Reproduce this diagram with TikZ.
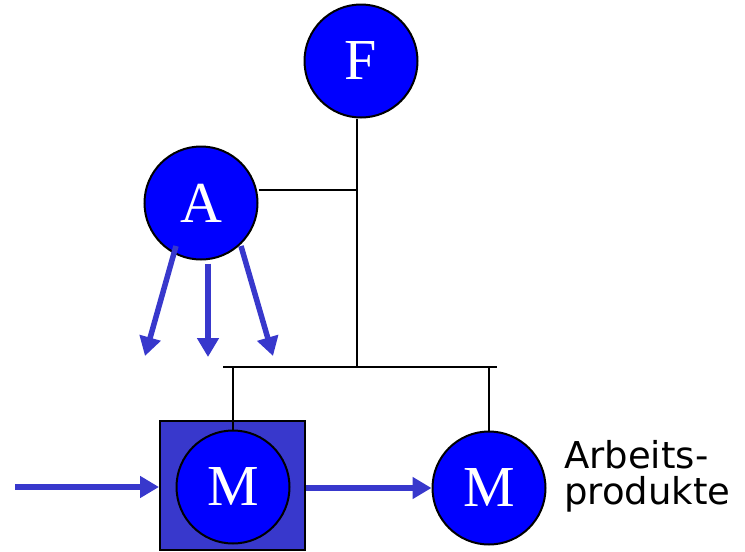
\documentclass[tikz,border=0pt]{standalone}
\usepackage{fontspec}
\setmainfont{Liberation Serif}
\newfontfamily\labelfont{DejaVu Sans}
\usetikzlibrary{arrows.meta,calc}
\definecolor{rolefill}{RGB}{0,0,255}
\definecolor{flowblue}{RGB}{56,56,204}
\tikzset{
  role/.style={circle, draw=black, line width=2pt, fill=rolefill, minimum size=113pt, inner sep=0pt,
    text=white, font=\fontsize{58}{58}\selectfont},
  orgline/.style={draw=black, line width=1.8pt},
  flowarrow/.style={draw=flowblue, line width=5.5pt, -{Triangle[width=21pt,length=19pt]}},
  unitbox/.style={draw=black, line width=2pt, fill=flowblue, minimum width=145pt, minimum height=129pt, inner sep=0pt},
}
\begin{document}
\begin{tikzpicture}[x=1pt,y=-1pt]
\useasboundingbox (0,0) rectangle (745,552);
\node[unitbox] (box) at (232.5,485.5) {};
\node[role] (F) at (361,61) {F};
\node[role] (A) at (201,203) {A};
\node[role] (M1) at (233,487) {M};
\node[role] (M2) at (489,488) {M};
\node[anchor=base west, align=left, inner sep=0pt, font=\labelfont\fontsize{37}{36}\selectfont] (txt) at (564,504) {Arbeits-\\produkte};
% org lines
\coordinate (jA) at (357,190);
\coordinate (barC) at (357,367);
\coordinate (barL) at (223,367);
\coordinate (barR) at (497,367);
\draw[orgline] (F.south -| barC) -- (barC);
\draw[orgline] (A.east |- jA) -- (jA);
\draw[orgline] (barL) -- (barR);
\draw[orgline] (M1.north) -- (M1.north |- barC);
\draw[orgline] (M2.north) -- (M2.north |- barC);
% arrows from A
\coordinate (tL) at (145,356);
\coordinate (tM) at (208,357);
\coordinate (tR) at (273,356);
\draw[flowarrow] (176,246) -- (tL);
\draw[flowarrow] ($(A.south -| tM)+(0,3)$) -- (tM);
\draw[flowarrow] (241,246) -- (tR);
% flow arrows
\coordinate (in) at (15,487);
\draw[flowarrow] (in) -- (box.west |- in);
\draw[flowarrow] (box.east |- M2.west) -- (M2.west);
\end{tikzpicture}
\end{document}
